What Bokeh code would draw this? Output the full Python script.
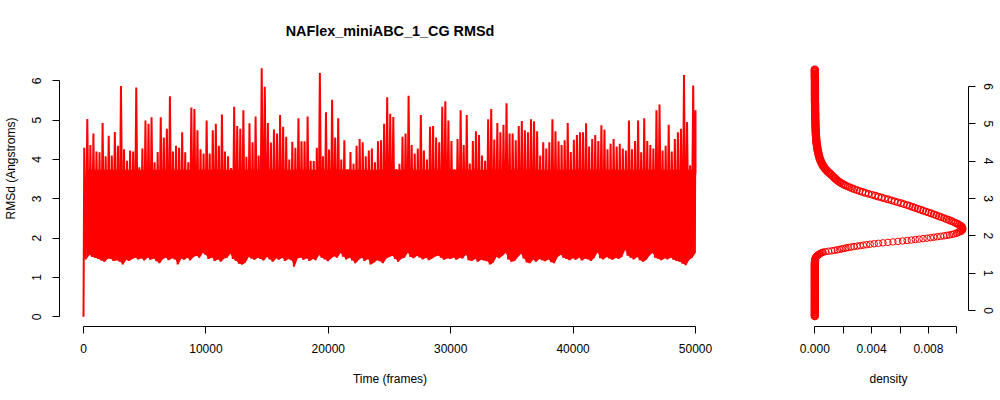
import numpy as np
from bokeh.plotting import figure
from bokeh.layouts import row
from bokeh.models import Range1d, FixedTicker, Label
from bokeh.embed import file_html
from bokeh.resources import INLINE

# ---------------- data ----------------
TITLE = "NAFlex_miniABC_1_CG RMSd"
N_FRAMES = 50000
FRAME_STEP = 250          # one envelope sample every 250 frames

# lower envelope (min RMSd) of each 250-frame window, Angstroms
rmsd_low = [
    0.00, 1.46, 1.58, 1.52, 1.50, 1.47, 1.43, 1.40, 1.48, 1.47,
    1.42, 1.44, 1.40, 1.33, 1.45, 1.42, 1.47, 1.50, 1.46, 1.49,
    1.43, 1.51, 1.45, 1.48, 1.41, 1.36, 1.47, 1.50, 1.44, 1.49,
    1.46, 1.33, 1.48, 1.45, 1.50, 1.43, 1.52, 1.55, 1.50, 1.62,
    1.58, 1.47, 1.51, 1.42, 1.46, 1.40, 1.48, 1.50, 1.60, 1.47,
    1.42, 1.35, 1.33, 1.38, 1.52, 1.48, 1.45, 1.50, 1.47, 1.43,
    1.52, 1.46, 1.40, 1.49, 1.45, 1.50, 1.42, 1.47, 1.44, 1.27,
    1.48, 1.51, 1.45, 1.49, 1.42, 1.47, 1.44, 1.57, 1.50, 1.46,
    1.41, 1.49, 1.54, 1.50, 1.62, 1.53, 1.46, 1.50, 1.43, 1.36,
    1.45, 1.50, 1.42, 1.47, 1.33, 1.38, 1.44, 1.41, 1.36, 1.48,
    1.52, 1.55, 1.47, 1.40, 1.48, 1.50, 1.63, 1.52, 1.49, 1.55,
    1.51, 1.46, 1.50, 1.44, 1.48, 1.53, 1.56, 1.50, 1.45, 1.49,
    1.47, 1.51, 1.45, 1.50, 1.48, 1.58, 1.44, 1.42, 1.47, 1.40,
    1.45, 1.43, 1.41, 1.33, 1.38, 1.52, 1.49, 1.55, 1.62, 1.46,
    1.40, 1.42, 1.52, 1.60, 1.48, 1.38, 1.36, 1.45, 1.40, 1.47,
    1.44, 1.41, 1.46, 1.39, 1.36, 1.52, 1.58, 1.50, 1.47, 1.44,
    1.49, 1.45, 1.51, 1.43, 1.48, 1.46, 1.42, 1.50, 1.64, 1.49,
    1.46, 1.52, 1.48, 1.45, 1.50, 1.47, 1.52, 1.70, 1.55, 1.50,
    1.46, 1.52, 1.44, 1.40, 1.45, 1.56, 1.62, 1.50, 1.47, 1.44,
    1.49, 1.46, 1.51, 1.45, 1.42, 1.40, 1.35, 1.31, 1.45, 1.50,
    1.62,
]

# upper envelope (max RMSd) of each 250-frame window, Angstroms
rmsd_high = [
    4.30, 5.03, 4.37, 4.66, 4.20, 4.18, 4.93, 4.08, 4.60, 4.10,
    4.70, 4.35, 5.87, 4.26, 3.97, 4.23, 4.20, 5.83, 3.80, 4.28,
    4.99, 4.91, 5.07, 3.93, 4.19, 5.07, 4.56, 4.78, 5.61, 4.20,
    4.35, 4.30, 4.69, 4.18, 3.93, 5.32, 5.28, 4.74, 4.26, 4.15,
    4.99, 4.15, 4.74, 4.91, 4.35, 5.14, 4.20, 4.08, 3.78, 5.34,
    4.85, 4.78, 5.25, 4.07, 4.92, 4.44, 5.09, 4.10, 6.32, 5.85,
    4.93, 4.43, 4.76, 4.66, 5.13, 4.83, 4.58, 4.00, 4.45, 4.30,
    5.05, 4.46, 4.46, 5.09, 3.97, 3.96, 4.30, 6.20, 4.08, 5.20,
    4.25, 5.52, 4.56, 5.05, 4.00, 4.49, 3.76, 4.19, 3.89, 4.35,
    4.52, 4.44, 4.08, 4.23, 4.28, 3.93, 4.46, 4.49, 4.91, 5.58,
    5.16, 5.08, 3.76, 3.89, 4.58, 4.66, 5.62, 4.37, 4.15, 4.28,
    5.13, 4.23, 4.00, 4.83, 4.85, 4.56, 4.44, 5.34, 5.48, 4.99,
    4.47, 3.75, 4.52, 5.25, 4.37, 5.13, 3.90, 4.47, 4.72, 4.62,
    4.10, 3.97, 5.02, 5.28, 4.51, 4.93, 4.69, 4.88, 5.43, 4.66,
    4.66, 4.49, 4.85, 4.98, 4.74, 4.69, 5.02, 4.97, 4.72, 4.10,
    4.44, 4.28, 4.44, 5.02, 4.72, 4.46, 4.37, 4.49, 4.93, 4.19,
    4.50, 4.62, 4.69, 4.69, 4.92, 4.33, 4.52, 4.62, 4.47, 4.87,
    4.76, 4.26, 4.40, 4.52, 4.33, 4.40, 4.28, 4.23, 4.99, 4.26,
    4.47, 4.99, 4.18, 5.05, 4.47, 4.37, 4.28, 5.25, 5.40, 4.23,
    4.35, 4.88, 4.20, 4.52, 4.69, 4.78, 6.15, 4.95, 3.85, 5.88,
    5.25,
]
last_rmsd = 3.64
band_solid_top = 3.74     # level below which the trace band is solid red

# kernel density of RMSd (x = density, y = RMSd), four y segments
dens_seg_a = [  # y -0.15 .. 1.35 step 0.05
    0.0, 0.0, 0.0, 0.0, 0.0, 0.0, 0.0, 0.0, 0.0, 0.0,
    0.0, 0.0, 0.0, 0.0, 0.0, 0.0, 0.0, 0.0, 0.0, 0.0,
    0.0, 0.0, 0.0, 0.0, 0.0, 0.0, 0.0, 0.0, 0.0, 0.00001,
    0.00002,
]
dens_seg_b = [  # y 1.40 .. 2.05 step 0.0125
    0.00004, 0.00005, 0.00007, 0.00009, 0.00012, 0.00015, 0.00019, 0.00023,
    0.00028, 0.00033, 0.00038, 0.00044, 0.00050, 0.00058, 0.00075, 0.00097,
    0.00120, 0.00140, 0.00158, 0.00175, 0.00190, 0.00205, 0.00220, 0.00236,
    0.00255, 0.00276, 0.00298, 0.00320, 0.00342, 0.00365, 0.00390, 0.00418,
    0.00448, 0.00480, 0.00515, 0.00550, 0.00585, 0.00618, 0.00650, 0.00680,
    0.00708, 0.00735, 0.00762, 0.00790, 0.00815, 0.00838, 0.00862, 0.00886,
    0.00910, 0.00930, 0.00948, 0.00965, 0.00979,
]
dens_seg_c = [  # y 2.075 .. 3.60 step 0.025
    0.01000, 0.01016, 0.01028, 0.01036, 0.01040, 0.01041, 0.01039, 0.01034,
    0.01026, 0.01016, 0.01004, 0.00990, 0.00975, 0.00960, 0.00944, 0.00927,
    0.00910, 0.00892, 0.00874, 0.00856, 0.00838, 0.00820, 0.00801, 0.00782,
    0.00763, 0.00744, 0.00725, 0.00706, 0.00688, 0.00669, 0.00650, 0.00628,
    0.00607, 0.00585, 0.00563, 0.00540, 0.00517, 0.00494, 0.00471, 0.00448,
    0.00425, 0.00402, 0.00379, 0.00357, 0.00336, 0.00316, 0.00297, 0.00279,
    0.00262, 0.00246, 0.00231, 0.00217, 0.00204, 0.00192, 0.00181, 0.00171,
    0.00162, 0.00154, 0.00147, 0.00140, 0.00133, 0.00126,
]
dens_seg_d = [  # y 3.65 .. 6.45 step 0.05
    0.00112, 0.00097, 0.00084, 0.00073, 0.00063, 0.00055, 0.00048, 0.00042,
    0.00037, 0.00033, 0.00029, 0.00026, 0.00023, 0.00020, 0.00018, 0.00016,
    0.00014, 0.00012, 0.00011, 0.00010, 0.00009, 0.00008, 0.00007, 0.00006,
    0.00006, 0.00005, 0.00005, 0.00004, 0.00004, 0.00004, 0.00003, 0.00003,
    0.00003, 0.00003, 0.00002, 0.00002, 0.00002, 0.00002, 0.00002, 0.00001,
    0.00001, 0.00001, 0.00001, 0.00001, 0.00001, 0.00001, 0.00001, 0.00001,
    0.00001, 0.00001, 0.00001, 0.00001, 0.0, 0.0, 0.0, 0.0, 0.0,
]

x_ticks = [0, 10000, 20000, 30000, 40000, 50000]
y_ticks = [0, 1, 2, 3, 4, 5, 6]
dens_ticks = [0.0, 0.002, 0.004, 0.006, 0.008, 0.010]
dens_tick_labels = ["0.000", "", "0.004", "", "0.008", ""]

# ---------------- build geometry ----------------
frames = np.arange(len(rmsd_low)) * FRAME_STEP
ts_x, ts_y = [], []
for f, lo, hi in zip(frames, rmsd_low, rmsd_high):
    ts_x += [max(f - 60, 0), min(f + 60, N_FRAMES)]
    ts_y += [lo, hi]
ts_x.append(N_FRAMES)
ts_y.append(last_rmsd)

fill_x = frames[1:]
fill_lo = np.array(rmsd_low[1:])
fill_hi = np.minimum(np.array(rmsd_high[1:]), band_solid_top)

ya_ = np.linspace(-0.15, 1.35, len(dens_seg_a))
yb_ = np.linspace(1.40, 2.05, len(dens_seg_b))
yc_ = np.linspace(2.075, 3.60, len(dens_seg_c))
yd_ = np.linspace(3.65, 6.45, len(dens_seg_d))

FONT = "Liberation Sans"
RED = "#FF0000"

# frame runs from 10 px to 326 px down the canvas (title sits inside it)
FRAME_TOP, FRAME_H = 10, 316
X_LO, X_HI = -1961, 52042
PX_PER_Y = 39.333
Y_LO = -0.2466
Y_HI = Y_LO + FRAME_H / PX_PER_Y
PX_PER_Y_D = 37.333
YD_LO = -0.4286
YD_HI = YD_LO + FRAME_H / PX_PER_Y_D


def style_axis(ax):
    ax.axis_line_color = "black"
    ax.axis_line_width = 1
    ax.major_tick_line_color = "black"
    ax.major_tick_in = 0
    ax.major_tick_out = 7
    ax.minor_tick_line_color = None
    ax.major_label_text_font = FONT
    ax.major_label_text_font_size = "12px"
    ax.major_label_text_color = "black"
    ax.axis_label_text_font = FONT
    ax.axis_label_text_font_size = "12px"
    ax.axis_label_text_font_style = "normal"
    ax.axis_label_text_color = "black"


# ---------------- left: time series ----------------
p = figure(frame_width=661, frame_height=FRAME_H,
           min_border_left=59, min_border_right=48,
           min_border_top=FRAME_TOP, min_border_bottom=74,
           x_range=Range1d(X_LO, X_HI), y_range=Range1d(Y_LO, Y_HI),
           output_backend="svg", toolbar_location=None)
p.outline_line_color = None
p.grid.visible = False
p.background_fill_color = "white"
p.border_fill_color = "white"

p.varea(x=fill_x, y1=fill_lo, y2=fill_hi, fill_color=RED)
p.line(ts_x, ts_y, line_color=RED, line_width=2.0)

# title: centred over the plot, 30 px below the canvas top
title_label = Label(x=(X_LO + X_HI) / 2,
                    y=Y_HI - (30 - FRAME_TOP) / PX_PER_Y, text=TITLE,
                    text_align="center", text_baseline="middle",
                    text_font=FONT, text_font_size="14.4px",
                    text_font_style="bold", text_color="black")
p.add_layout(title_label)

xa = p.xaxis[0]
ya = p.yaxis[0]
for ax in (xa, ya):
    style_axis(ax)
xa.ticker = FixedTicker(ticks=x_ticks)
xa.major_label_overrides = {t: str(t) for t in x_ticks}
xa.bounds = (x_ticks[0], x_ticks[-1])
xa.major_label_standoff = 10
xa.axis_label = "Time (frames)"
xa.axis_label_standoff = 16
ya.ticker = FixedTicker(ticks=y_ticks)
ya.major_label_overrides = {t: str(t) for t in y_ticks}
ya.bounds = (y_ticks[0], y_ticks[-1])
ya.major_label_orientation = "vertical"
ya.major_label_standoff = 11
ya.axis_label = "RMSd (Angstroms)"
ya.axis_label_standoff = 12

# ---------------- right: density ----------------
q = figure(frame_width=160, frame_height=FRAME_H,
           min_border_left=40, min_border_right=32,
           min_border_top=FRAME_TOP, min_border_bottom=74,
           x_range=Range1d(-0.000444, 0.010824), y_range=Range1d(YD_LO, YD_HI),
           y_axis_location="right",
           output_backend="svg", toolbar_location=None)
q.outline_line_color = None
q.grid.visible = False
q.background_fill_color = "white"
q.border_fill_color = "white"

q.scatter(dens_seg_a, ya_, marker="circle", size=6.5,
          fill_color=None, line_color=RED, line_width=2)
q.scatter(dens_seg_b, yb_, marker="circle", size=6.5,
          fill_color=None, line_color=RED, line_width=1)
q.scatter(dens_seg_c, yc_, marker="circle", size=6.5,
          fill_color=None, line_color=RED, line_width=1.2)
q.scatter(dens_seg_d, yd_, marker="circle", size=6.5,
          fill_color=None, line_color=RED, line_width=2)

qx = q.xaxis[0]
qy = q.yaxis[0]
for ax in (qx, qy):
    style_axis(ax)
qx.ticker = FixedTicker(ticks=dens_ticks)
qx.major_label_overrides = dict(zip(dens_ticks, dens_tick_labels))
qx.bounds = (dens_ticks[0], dens_ticks[-1])
qx.major_label_standoff = 10
qx.axis_label = "density"
qx.axis_label_standoff = 16
qy.ticker = FixedTicker(ticks=y_ticks)
qy.major_label_overrides = {t: str(t) for t in y_ticks}
qy.bounds = (y_ticks[0], y_ticks[-1])
qy.major_label_orientation = "vertical"
qy.major_label_standoff = 8

layout = row(p, q)
open("out.html", "w").write(file_html(layout, INLINE))
